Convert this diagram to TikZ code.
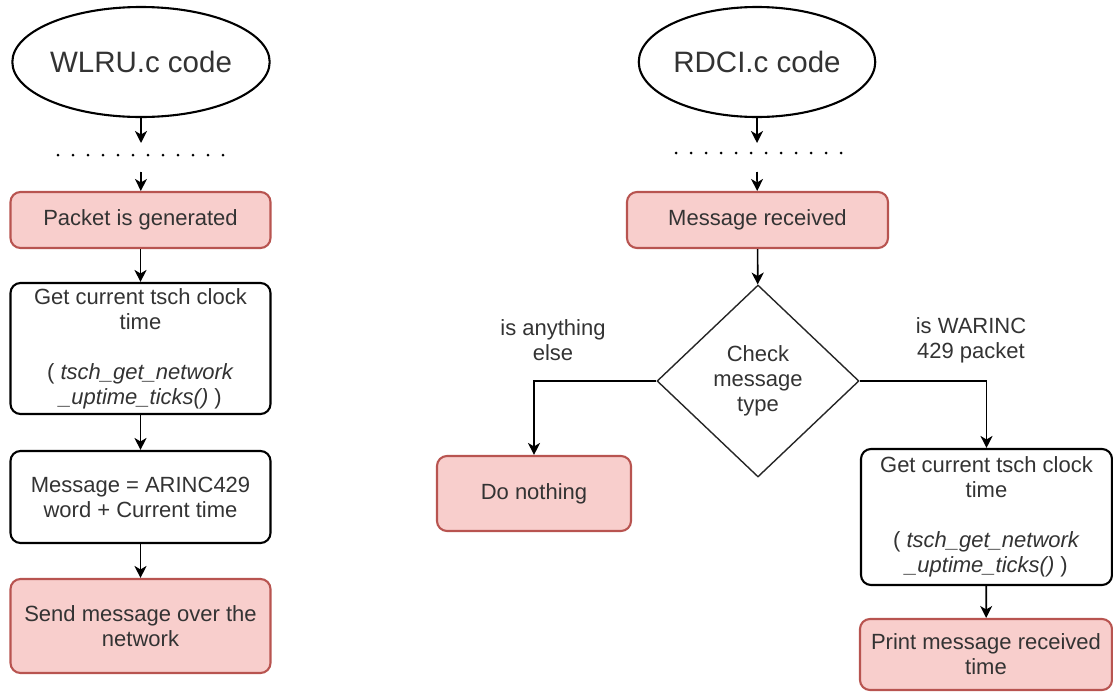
\documentclass[tikz,border=0pt]{standalone}
\usepackage{fontspec}
\setmainfont{Liberation Sans}
\usetikzlibrary{shapes.geometric,arrows.meta}
\definecolor{redfill}{HTML}{F8CECC}
\definecolor{redline}{HTML}{B85450}
\definecolor{txt}{HTML}{333333}
\begin{document}
\begin{tikzpicture}[x=1pt,y=1pt,
  box/.style={draw, line width=2.1pt, rounded corners=10pt, align=center, inner sep=0pt, text=txt, font=\fontsize{22}{25}\selectfont},
  redbox/.style={box, fill=redfill, draw=redline},
  whitebox/.style={box, fill=white, draw=black},
  startel/.style={ellipse, draw, line width=2.1pt, minimum width=208pt, minimum height=110pt, inner sep=0pt, text=txt, font=\fontsize{29.5}{32}\selectfont},
  decision/.style={diamond, draw=black!85, line width=1.4pt, minimum width=202pt, minimum height=192pt, inner sep=0pt, align=center, text=txt, font=\fontsize{22}{25}\selectfont},
  conn/.style={line width=1.7pt, -{Stealth[length=12pt,width=12pt,inset=3.5pt]}},
  lbl/.style={align=center, text=txt, font=\fontsize{22}{25}\selectfont},
  dotrow/.style={line width=3pt, line cap=round, dash pattern=on 0pt off 15pt}
]
\useasboundingbox (0,0) rectangle (1113,-691);

% ---------- left column ----------
\node[startel] (wlru) at (141,-62) {WLRU.c code};
\coordinate (ldotsA) at (141,-143);
\coordinate (ldotsB) at (141,-172);
\coordinate (ldotL) at (58,-155);
\coordinate (ldotR) at (224,-155);
\draw[dotrow] (ldotL) -- (ldotR);
\node[redbox, minimum width=260pt, minimum height=56pt] (gen) at (140.5,-220) {Packet is generated};
\node[whitebox, minimum width=260pt, minimum height=131pt] (ltsch) at (140.5,-348.5)
  {Get current tsch clock\\time\\[25pt]( \textit{tsch\_get\_network}\\\textit{\_uptime\_ticks()} )};
\node[whitebox, minimum width=260pt, minimum height=92pt] (msg) at (140.5,-497) {Message = ARINC429\\word + Current time};
\node[redbox, minimum width=260pt, minimum height=94pt] (send) at (140.5,-626) {Send message over the\\network};

\draw[conn] (wlru) -- (ldotsA);
\draw[conn] (ldotsB) -- (gen);
\draw[conn] (gen) -- (ltsch);
\draw[conn] (ltsch) -- (msg);
\draw[conn] (msg) -- (send);

% ---------- right column ----------
\node[startel] (rdci) at (757,-62) {RDCI.c code};
\coordinate (rdotsA) at (757,-143);
\coordinate (rdotsB) at (757,-172);
\coordinate (rdotL) at (676,-153);
\coordinate (rdotR) at (842,-153);
\draw[dotrow] (rdotL) -- (rdotR);
\node[redbox, minimum width=261pt, minimum height=56pt] (recv) at (757.5,-220) {Message received};
\node[decision] (chk) at (758,-381) {Check\\message\\type};
\node[redbox, minimum width=194pt, minimum height=75pt] (nothing) at (534,-493.5) {Do nothing};
\node[whitebox, minimum width=251pt, minimum height=136pt] (rtsch) at (986.5,-517)
  {Get current tsch clock\\time\\[25pt]( \textit{tsch\_get\_network}\\\textit{\_uptime\_ticks()} )};
\node[redbox, minimum width=252pt, minimum height=71pt] (print) at (986,-654.5) {Print message received\\time};

\node[lbl] (lother) at (553,-340) {is anything\\else};
\node[lbl] (lwarinc) at (971,-340) {is WARINC\\429 packet};

\draw[conn] (rdci) -- (rdotsA);
\draw[conn] (rdotsB) -- (recv);
\draw[conn] (recv) -- (chk);
\draw[conn] (chk.west) -| (nothing.north);
\draw[conn] (chk.east) -| (rtsch.north);
\draw[conn] (rtsch) -- (print);
\end{tikzpicture}
\end{document}
